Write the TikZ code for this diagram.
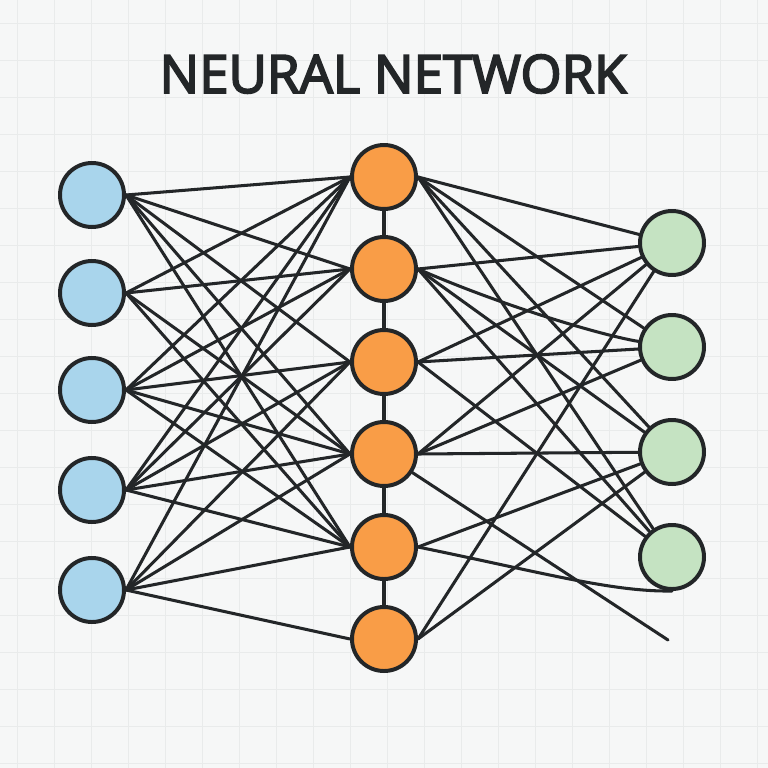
\documentclass[tikz,border=0pt]{standalone}
\usepackage{fontspec}
\newfontfamily\titlefont{Open Sans}[FakeBold=3.5]
\definecolor{bg}{HTML}{F6F7F7}
\definecolor{gridc}{HTML}{E9EBEB}
\definecolor{ink}{HTML}{232628}
\definecolor{blu}{HTML}{A9D5EC}
\definecolor{ora}{HTML}{F99D47}
\definecolor{grn}{HTML}{C5E3C2}
\pgfdeclarelayer{bglayer}
\pgfdeclarelayer{edgelayer}
\pgfsetlayers{bglayer,edgelayer,main}
\begin{document}
\begin{tikzpicture}[x=0.03cm,y=-0.03cm,
  nn/.style={circle,draw=ink,line width=3.4pt,minimum size=1.92cm,inner sep=0pt},
  inp/.style={nn,fill=blu},
  hid/.style={nn,fill=ora},
  outn/.style={nn,fill=grn},
  wire/.style={draw=ink,line width=2.6pt,line cap=round}]
\useasboundingbox (0,0) rectangle (768,768);
\begin{pgfonlayer}{bglayer}
  \fill[bg] (0,0) rectangle (768,768);
  \foreach \x in {17,54,...,768} \draw[gridc,line width=0.8pt] (\x,0) -- (\x,768);
  \foreach \y in {23,60,...,768} \draw[gridc,line width=0.8pt] (0,\y) -- (768,\y);
\end{pgfonlayer}

\node[font=\titlefont\fontsize{45}{50}\selectfont,text=ink] (title) at (393,74) {NEURAL NETWORK};

% input layer
\node[inp] (I1) at (92,195) {};
\node[inp] (I2) at (92,293) {};
\node[inp] (I3) at (92,390) {};
\node[inp] (I4) at (92,490) {};
\node[inp] (I5) at (92,590) {};
% hidden layer
\node[hid] (H1) at (384,177) {};
\node[hid] (H2) at (384,269) {};
\node[hid] (H3) at (384,362) {};
\node[hid] (H4) at (384,454) {};
\node[hid] (H5) at (384,547) {};
\node[hid] (H6) at (384,639) {};
% output layer
\node[outn] (O1) at (672,243) {};
\node[outn] (O2) at (672,347) {};
\node[outn] (O3) at (672,452) {};
\node[outn] (O4) at (672,557) {};
\coordinate (free) at (668,640);

\begin{pgfonlayer}{edgelayer}
  \foreach \i/\h in {1/1,1/2,1/3,1/4,1/5,
                     2/1,2/2,2/4,2/5,
                     3/1,3/2,3/3,3/4,3/5,
                     4/1,4/2,4/3,4/4,4/5,
                     5/1,5/3,5/4,5/5,5/6}
    \draw[wire] (I\i.east) -- (H\h.west);
  \foreach \a/\b in {1/2,2/3,3/4,4/5,5/6}
    \draw[wire] (H\a) -- (H\b);
  \foreach \h/\o in {1/1,1/2,1/3,1/4,
                     2/1,2/3,2/4,
                     3/1,3/2,3/4,
                     4/1,4/2,4/3,
                     5/3,
                     6/1,6/3}
    \draw[wire] (H\h.east) -- (O\o);
  \draw[wire] (H2.east) .. controls (500,305) and (600,335) .. (O2);
  \draw[wire] (H5.east) .. controls (540,572) and (612,592) .. (O4.south);
  \draw[wire] (H4) -- (free);
\end{pgfonlayer}
\end{tikzpicture}
\end{document}
